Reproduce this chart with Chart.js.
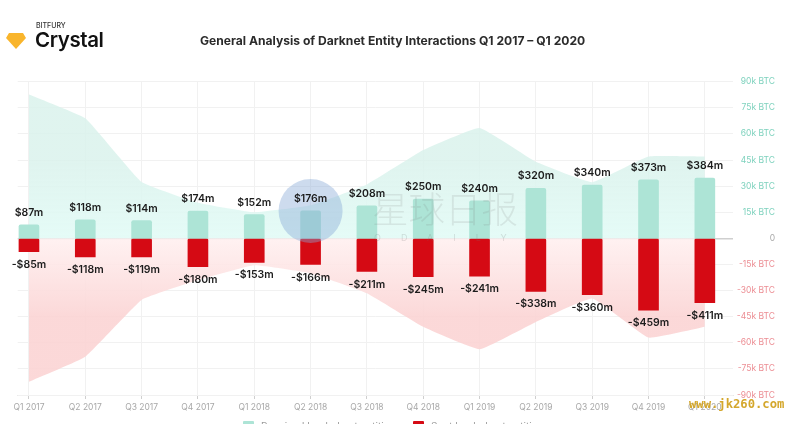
<!DOCTYPE html>
<html>
<head>
<meta charset="utf-8">
<script src="https://cdn.jsdelivr.net/npm/chart.js@4"></script>
<style>
  html, body { margin: 0; background: #fff; width: 800px; height: 424px; overflow: hidden; font-family: Inter, sans-serif; }
  #wrap { position: relative; width: 800px; height: 424px; overflow: hidden; }
  #wrap canvas { position: absolute; left: 0; top: 0; }
  .abs { position: absolute; white-space: nowrap; }
  #brand1 { left: 36px; top: 21px; font-size: 7px; font-weight: 500; color: #333; }
  #brand2 { left: 35px; top: 27px; font-size: 20.5px; font-weight: 600; color: #111; letter-spacing: -0.4px; }
  #title { left: 200px; top: 33px; font-size: 12.1px; font-weight: 700; color: #2b2b2b; }
  #mark1 { left: 372px; top: 181px; font-size: 36.5px; font-weight: 300; color: rgba(120,120,120,.15); font-family: "Noto Sans CJK SC"; }
  #mark2 { left: 374px; top: 232px; font-size: 9px; color: rgba(120,120,120,.22); letter-spacing: 20px; }
  #site { left: 689px; top: 397px; font-family: "DejaVu Sans Mono", monospace; font-size: 12.2px; font-weight: 700; color: #d4a72c; }
  .swatch { position: absolute; top: 421px; width: 11px; height: 11px; border-radius: 1px; }
  .legend { top: 420px; font-size: 10px; color: #9a9a9a; }
</style>
</head>
<body>
<div id="wrap">
  <canvas id="chart" width="800" height="424"></canvas>
  <svg class="abs" style="left:6px;top:33px" width="20" height="17" viewBox="0 0 20 17">
    <polygon points="3,0 17,0 20,5 10,16 0,5" fill="#f9b52c"/>
  </svg>
  <div class="abs" id="brand1">BITFURY</div>
  <div class="abs" id="brand2">Crystal</div>
  <div class="abs" id="title">General Analysis of Darknet Entity Interactions Q1 2017 – Q1 2020</div>
  <div class="abs" id="mark1">星球日报</div>
  <div class="abs" id="mark2">ODAILY</div>
  <div class="abs" id="site">www.jk260.com</div>
  <div class="swatch" style="left:243px;background:#ade4d6"></div>
  <div class="abs legend" style="left:261px">Received by darknet entities</div>
  <div class="swatch" style="left:413px;background:#d50a14"></div>
  <div class="abs legend" style="left:431px">Sent by darknet entities</div>
</div>
<script>
// Data
const quarters = ['Q1 2017', 'Q2 2017', 'Q3 2017', 'Q4 2017', 'Q1 2018', 'Q2 2018', 'Q3 2018', 'Q4 2018', 'Q1 2019', 'Q2 2019', 'Q3 2019', 'Q4 2019', 'Q1 2020'];
const receivedUsd = [87, 118, 114, 174, 152, 176, 208, 250, 240, 320, 340, 373, 384];
const sentUsd = [-85, -118, -119, -180, -153, -166, -211, -245, -241, -338, -360, -459, -411];
const receivedBtc = [82700, 69000, 32400, 20500, 15000, 19000, 31000, 50700, 63400, 44000, 32300, 47000, 47000];
const sentBtc = [-82400, -68000, -35400, -24000, -15400, -20000, -31500, -50800, -63700, -48000, -34500, -57000, -50800];
const btcTicks = [90000, 75000, 60000, 45000, 30000, 15000, 0, -15000, -30000, -45000, -60000, -75000, -90000];

const points = values => values.map((v, i) => ({ x: i, y: v }));

function areaFill(context, near, far, up) {
    const { chart } = context;
    if (!chart.chartArea) return far;
    const y = chart.scales.y;
    const g = chart.ctx.createLinearGradient(0, y.getPixelForValue(0), 0, y.getPixelForValue(up ? 45000 : -45000));
    g.addColorStop(0, near);
    g.addColorStop(1, far);
    return g;
}

// Blue circle over the bars, dollar labels on top of it
const barLabels = {
    id: 'barLabels',
    afterDatasetsDraw(chart) {
        const { ctx, scales } = chart;
        ctx.save();
        ctx.fillStyle = 'rgba(135,170,215,0.42)';
        ctx.beginPath();
        ctx.arc(scales.x.getPixelForValue(5), 211, 32, 0, Math.PI * 2);
        ctx.fill();

        ctx.font = '600 10.5px Inter, sans-serif';
        ctx.fillStyle = '#1c1c1c';
        ctx.textAlign = 'center';
        ctx.textBaseline = 'middle';
        chart.getDatasetMeta(2).data.forEach((bar, i) => {
            ctx.fillText('$' + receivedUsd[i] + 'm', bar.x, bar.y - 12);
        });
        chart.getDatasetMeta(3).data.forEach((bar, i) => {
            ctx.fillText('-$' + Math.abs(sentUsd[i]) + 'm', bar.x, bar.y + 13);
        });
        ctx.restore();
    }
};

new Chart(document.getElementById('chart'), {
    type: 'bar',
    data: {
        datasets: [
            {
                type: 'line',
                data: points(receivedBtc),
                yAxisID: 'y',
                borderWidth: 0,
                pointRadius: 0,
                tension: 0.1,
                fill: 'origin',
                backgroundColor: c => areaFill(c, 'rgba(226,251,246,0.9)', 'rgba(218,242,236,0.85)', true),
                order: 3
            },
            {
                type: 'line',
                data: points(sentBtc),
                yAxisID: 'y',
                borderWidth: 0,
                pointRadius: 0,
                tension: 0.1,
                fill: 'origin',
                backgroundColor: c => areaFill(c, 'rgba(255,240,240,0.9)', 'rgba(251,212,212,0.9)', false),
                order: 3
            },
            {
                data: points(receivedUsd),
                yAxisID: 'usd',
                grouped: false,
                barThickness: 20,
                borderRadius: 2,
                borderSkipped: 'bottom',
                backgroundColor: '#ade4d6',
                order: 1
            },
            {
                data: points(sentUsd),
                yAxisID: 'usd',
                grouped: false,
                barThickness: 20,
                borderRadius: 2,
                borderSkipped: 'top',
                backgroundColor: '#d50a14',
                order: 2
            }
        ]
    },
    options: {
        responsive: false,
        animation: false,
        layout: { padding: { left: 17.7, right: 25, top: 81.7, bottom: 8 } },
        plugins: { legend: { display: false }, tooltip: { enabled: false } },
        scales: {
            x: {
                type: 'linear',
                offset: false,
                min: -0.2,
                max: 12.5,
                afterFit: scale => { scale.height = 21; },
                grid: { offset: false, color: '#f1f1f1', tickColor: '#cfcfcf', tickLength: 4 },
                border: { color: '#e8e8e8' },
                ticks: {
                    stepSize: 1,
                    includeBounds: false,
                    maxRotation: 0,
                    autoSkip: false,
                    padding: 3,
                    color: '#a8a8a8',
                    font: { size: 8.5, family: 'Inter, sans-serif' },
                    callback: v => quarters[v]
                }
            },
            y: {
                position: 'right',
                min: -90000,
                max: 90000,
                afterBuildTicks: scale => { scale.ticks = btcTicks.map(value => ({ value })); },
                afterFit: scale => { scale.width = 42; },
                grid: { color: c => c.tick.value === 0 ? '#cfcfcf' : '#f1f1f1', lineWidth: c => c.tick.value === 0 ? 1.5 : 1, drawTicks: false, z: 0 },
                border: { display: false },
                ticks: {
                    crossAlign: 'far',
                    padding: 6,
                    color: c => c.tick.value > 0 ? '#7fd2be' : c.tick.value < 0 ? '#ec8e94' : '#a8a8a8',
                    font: { size: 8.5, family: 'Inter, sans-serif' },
                    callback: v => v === 0 ? '0' : (v / 1000) + 'k BTC'
                }
            },
            usd: { display: false, min: -1000, max: 1000 }
        }
    },
    plugins: [barLabels]
});
</script>
</body>
</html>
